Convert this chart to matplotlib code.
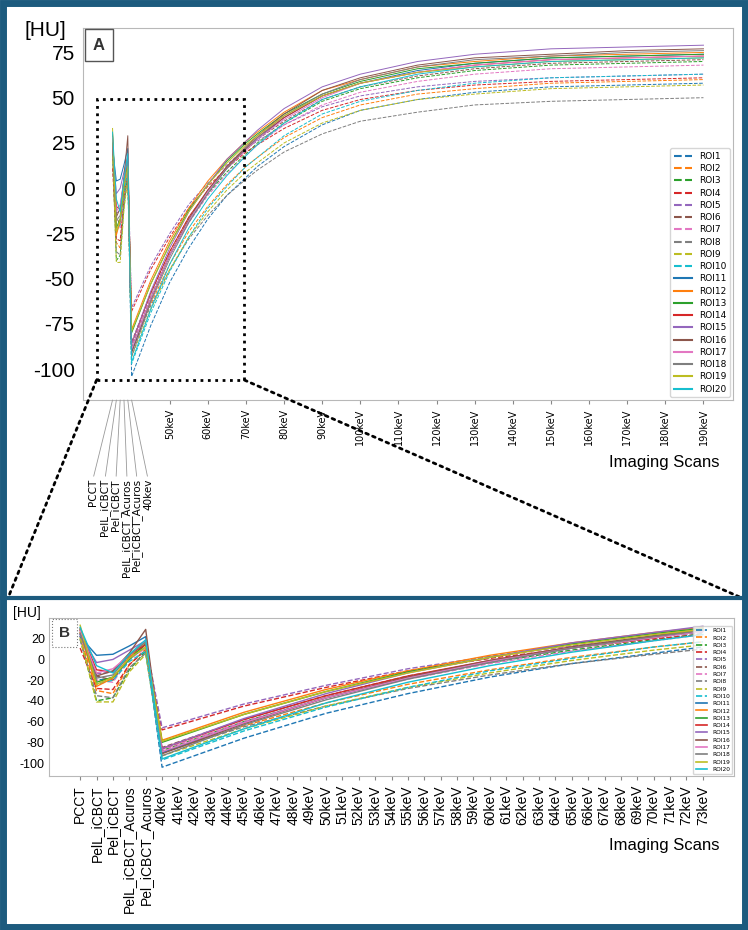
import numpy as np
import matplotlib
matplotlib.use("Agg")
import matplotlib.pyplot as plt
from matplotlib.patches import Rectangle, ConnectionPatch
from matplotlib.lines import Line2D

# scan names and VMI energies (keV)
scans = ['PCCT', 'PelL_iCBCT', 'Pel_iCBCT', 'PelL_iCBCT_Acuros', 'Pel_iCBCT_Acuros']
energies = [40, 45, 50, 55, 60, 65, 70, 73, 80, 90, 100, 115, 130, 150, 170, 190]
rois = ['ROI%d' % i for i in range(1, 21)]

# HU per ROI for the five scans
scan_hu = [
    [24, -20, -18, 0, 12],
    [22, -30, -33, -5, 10],
    [20, -40, -37, -10, 8],
    [11, -28, -29, -5, 9],
    [26, -14, -12, 3, 16],
    [25, -16, -20, 2, 14],
    [23, -20, -22, 0, 11],
    [19, -35, -37, -8, 6],
    [21, -41, -41, -12, 5],
    [27, -24, -20, -2, 8],
    [22, 4, 5, 13, 22],
    [26, -26, -18, 2, 17],
    [29, -22, -17, 0, 15],
    [28, -10, -12, 5, 14],
    [24, -3, 0, 9, 18],
    [30, -16, -11, 6, 29],
    [28, -13, -9, 4, 18],
    [25, -18, -15, 4, 17],
    [33, -24, -17, 1, 12],
    [31, -6, -13, 5, 19],
]

# HU per ROI read at the energies above
vmi_hu = [
    [-104, -76, -52, -33, -17, -4, 6, 12, 23, 35, 43, 49, 53, 56, 57, 58],
    [-90, -64, -42, -24, -10, 2, 12, 17, 28, 39, 46, 52, 55, 58, 59, 60],
    [-88, -60, -37, -18, -3, 9, 19, 25, 36, 48, 55, 61, 65, 68, 69, 70],
    [-68, -45, -27, -11, 1, 11, 20, 24, 33, 43, 49, 54, 57, 59, 60, 61],
    [-66, -43, -25, -9, 3, 13, 22, 26, 35, 45, 51, 56, 59, 61, 62, 63],
    [-85, -58, -35, -16, -2, 11, 21, 27, 37, 49, 56, 62, 66, 69, 70, 71],
    [-87, -60, -37, -19, -4, 8, 18, 24, 35, 46, 53, 59, 63, 66, 67, 68],
    [-90, -65, -45, -28, -15, -4, 5, 10, 20, 30, 37, 42, 46, 48, 49, 50],
    [-93, -67, -45, -27, -13, -1, 9, 14, 25, 36, 43, 49, 52, 55, 56, 57],
    [-97, -69, -46, -27, -11, 1, 12, 17, 29, 41, 48, 54, 58, 61, 62, 63],
    [-90, -61, -37, -18, -2, 11, 22, 27, 39, 51, 58, 65, 69, 72, 73, 74],
    [-78, -51, -29, -11, 4, 16, 26, 31, 42, 54, 60, 67, 70, 73, 74, 75],
    [-80, -53, -31, -12, 2, 15, 25, 30, 41, 52, 59, 66, 69, 72, 73, 74],
    [-86, -58, -35, -16, -1, 12, 22, 28, 39, 51, 58, 64, 68, 71, 72, 73],
    [-86, -57, -33, -13, 2, 16, 26, 32, 44, 56, 63, 70, 74, 77, 78, 79],
    [-91, -62, -37, -17, -1, 12, 23, 29, 41, 54, 61, 68, 72, 74, 76, 77],
    [-89, -61, -37, -18, -2, 11, 21, 27, 38, 50, 58, 64, 68, 71, 72, 73],
    [-93, -63, -39, -19, -3, 11, 22, 28, 40, 52, 60, 67, 71, 73, 75, 76],
    [-79, -53, -31, -13, 2, 14, 24, 29, 40, 51, 58, 64, 67, 70, 71, 72],
    [-96, -67, -42, -22, -6, 7, 18, 24, 36, 49, 56, 63, 67, 70, 71, 72],
]

a_ticks_kev = list(range(50, 200, 10))
b_ticks_kev = list(range(40, 74))

W, H = 748, 930
fig = plt.figure(figsize=(W / 100, H / 100), dpi=100)
plt.rcParams['font.family'] = ['Liberation Sans', 'DejaVu Sans']
colors = plt.get_cmap('tab10').colors


def pos(e):
    # category position of a VMI energy: 5 scans come first, then one slot per keV
    return len(scans) + (e - 40)


def fx(px):
    return px / W


def fy(py):
    return 1 - py / H


axA = fig.add_axes([fx(83), fy(400), fx(733) - fx(83), fy(28) - fy(400)])
axB = fig.add_axes([fx(49), fy(776), fx(734) - fx(49), fy(618) - fy(776)])

hA, hB = [], []
for i, name in enumerate(rois):
    ls = '--' if i < 10 else '-'
    c = colors[i % 10]
    xs = list(range(len(scans))) + [pos(e) for e in energies]
    ys = scan_hu[i] + vmi_hu[i]
    axA.plot(xs, ys, ls=ls, color=c, lw=0.7)
    nb = len(scans) + sum(1 for e in energies if e <= 73)
    axB.plot(xs[:nb], ys[:nb], ls=ls, color=c, lw=1.0)
    hA.append(Line2D([], [], ls=ls, color=c, lw=1.5))
    hB.append(Line2D([], [], ls=ls, color=c, lw=1.2))

for ax in (axA, axB):
    for sp in ax.spines.values():
        sp.set_color('#b8b8b8')
    ax.tick_params(axis='y', length=0)
    ax.tick_params(axis='x', color='#888888', length=3)

# --- panel A
axA.set_xlim(-7.75, 162.75)
axA.set_ylim(-117, 88.5)
axA.set_yticks([-100, -75, -50, -25, 0, 25, 50, 75])
axA.set_yticklabels(['-100', '-75', '-50', '-25', '0', '25', '50', '75'], fontsize=15)
axA.tick_params(axis='y', pad=6)
axA.set_xticks([pos(e) for e in a_ticks_kev])
axA.set_xticklabels(['%dkeV' % e for e in a_ticks_kev], rotation=90,
                    fontsize=7, family='DejaVu Sans')
axA.legend(hA, rois, loc='lower right', prop={'family': 'DejaVu Sans', 'size': 6.5},
           borderaxespad=0.3, labelspacing=0.36)

a_first = scans + ['40kev']
label_px = [93, 105, 116, 127, 137, 148]
for i, lab in enumerate(a_first):
    axA.annotate(lab, xy=(i, -117), xycoords='data',
                 xytext=(label_px[i], H - 479), textcoords='figure pixels',
                 rotation=90, ha='center', va='top', fontsize=7.5, family='DejaVu Sans',
                 arrowprops=dict(arrowstyle='-', color='#999999', lw=0.6,
                                 shrinkA=0, shrinkB=0, relpos=(0.5, 1.0)),
                 annotation_clip=False)

# zoom rectangle and connectors
axA.add_patch(Rectangle((-4.2, -106), 38.8, 155.2, fill=False, ls=':', lw=2,
                        ec='black', clip_on=False, zorder=5))
for xa, xb in ((-4.2, 8), (34.6, 742)):
    con = ConnectionPatch(xyA=(xa, -106), coordsA='data', axesA=axA,
                          xyB=(fx(xb), fy(598)), coordsB='figure fraction',
                          ls=':', lw=2, color='black')
    fig.add_artist(con)

fig.text(fx(45), fy(30), '[HU]', fontsize=15, ha='center', va='center')
fig.text(fx(99), fy(45), 'A', fontsize=12, fontweight='bold', ha='center', va='center',
         color='#333333',
         bbox=dict(boxstyle='square,pad=0.5', fc='white', ec='#555555', lw=1))
fig.text(fx(664), fy(462), 'Imaging Scans', fontsize=12, ha='center', va='center')

# --- panel B
axB.set_xlim(-1.9, 39.9)
axB.set_ylim(-112.5, 40)
axB.set_yticks([-100, -80, -60, -40, -20, 0, 20])
axB.set_yticklabels(['-100', '-80', '-60', '-40', '-20', '0', '20'], fontsize=9)
axB.tick_params(axis='y', pad=3)
axB.set_xticks(list(range(len(scans))) + [pos(e) for e in b_ticks_kev])
axB.set_xticklabels(scans + ['%dkeV' % e for e in b_ticks_kev], rotation=90, fontsize=10)
axB.legend(hB, rois, loc='lower right', prop={'family': 'DejaVu Sans', 'size': 4.2},
           borderaxespad=0.3, labelspacing=0.38)

fig.text(fx(27), fy(613), '[HU]', fontsize=10, ha='center', va='center')
fig.text(fx(64.5), fy(633), 'B', fontsize=11, fontweight='bold', ha='center', va='center',
         color='#333333',
         bbox=dict(boxstyle='square,pad=0.45', fc='white', ec='#777777', lw=0.8, ls=':'))
fig.text(fx(664), fy(845), 'Imaging Scans', fontsize=12, ha='center', va='center')

# frames
blue = '#1d5b7e'
fig.add_artist(Rectangle((fx(3.5), fy(926.5)), fx(741), fy(3.5) - fy(926.5),
                         transform=fig.transFigure, fill=False, ec=blue, lw=5))
fig.add_artist(plt.Line2D([0, 1], [fy(597.5), fy(597.5)], transform=fig.transFigure,
                          color=blue, lw=3))

fig.savefig('out.png', dpi=100)
